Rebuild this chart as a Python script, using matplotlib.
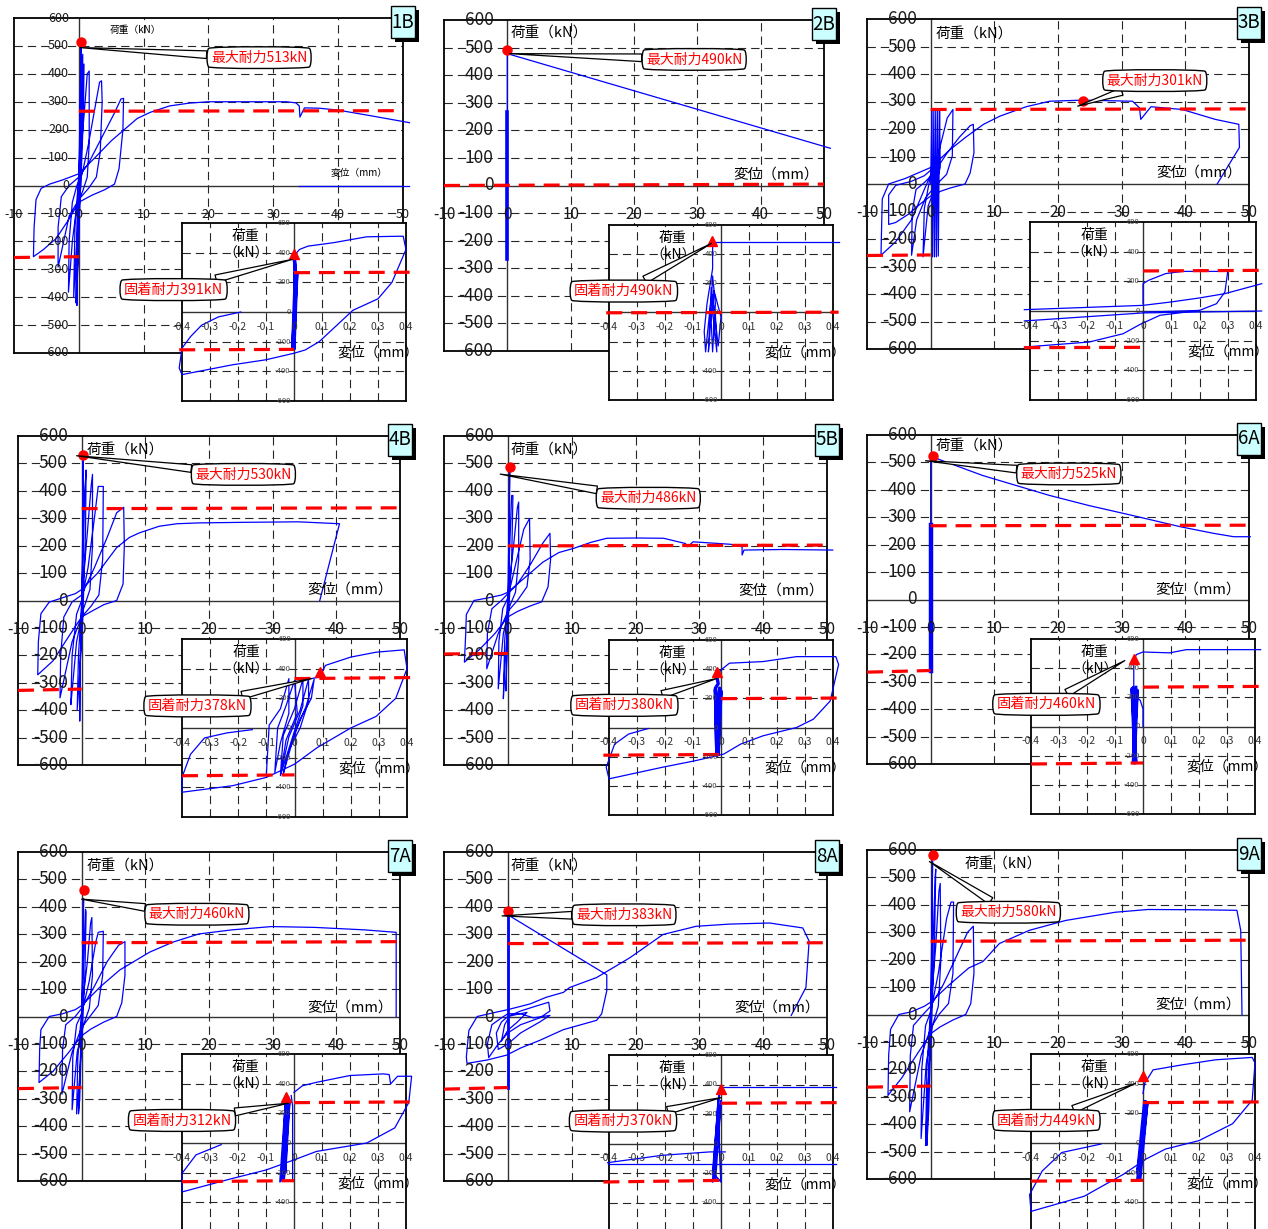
import matplotlib
matplotlib.use("Agg")
import matplotlib.pyplot as plt
from matplotlib.patches import Rectangle

plt.rcParams['font.family'] = ['Noto Sans CJK JP', 'DejaVu Sans']

W, H = 1268, 1229

# ---------------------------------------------------------------- specimens
specimens = ['1B', '2B', '3B', '4B', '5B', '6A', '7A', '8A', '9A']
max_load = [513, 490, 301, 530, 486, 525, 460, 383, 580]          # kN
max_disp = [0.35, 0.0, 23.9, 0.2, 0.4, 0.4, 0.4, 0.0, 0.4]         # mm
fix_load = [391, 490, None, 378, 380, 460, 312, 370, 449]          # kN
fix_disp = [0.0, -0.033, None, 0.09, -0.015, -0.033, -0.027, 0.0, 0.0]

main_ticks_y = list(range(-600, 700, 100))
main_ticks_x = [-10, 0, 10, 20, 30, 40, 50]
inset_ticks_y = [-600, -400, -200, 0, 200, 400, 600]
inset_ticks_x = [-0.4, -0.3, -0.2, -0.1, 0.0, 0.1, 0.2, 0.3, 0.4]

# ---------------------------------------------------------------- 1B
c1b_loops = [
    (0, 0), (0.2, 300), (0.35, 513), (0.3, 420), (0.1, 100), (-0.1, -200), (-0.3, -430), (-0.2, -300),
    (0.1, 0), (0.4, 300), (0.6, 470), (0.6, 300), (0.2, -50), (-0.2, -300), (-0.5, -420), (-0.3, -150),
    (0.2, 150), (0.5, 350), (0.8, 435), (0.7, 250), (0.3, 0), (-0.3, -200), (-0.8, -400), (-0.6, -150), (0, 40),
    (0.8, 250), (1.3, 400), (1.6, 410), (1.6, 150), (1.3, 30), (0.6, -20), (-0.3, -70), (-1.0, -200),
    (-1.6, -382), (-1.5, -200), (-1.0, -60), (-0.3, 0), (0.5, 40),
    (1.5, 150), (2.5, 280), (3.2, 370), (3.5, 375), (3.6, 300), (3.3, 120), (2.7, 30), (1.5, -10), (0, -50),
    (-1.5, -110), (-2.8, -250), (-3.2, -292), (-3.2, -150), (-2.7, -40), (-1.5, 0), (0, 30),
    (1.5, 80), (3.5, 170), (5.5, 260), (6.5, 310), (6.9, 312), (6.8, 200), (6.2, 60), (5.5, 5), (4, -15),
    (2, -35), (0, -60), (-1.5, -120), (-3.5, -190), (-5.5, -230), (-7.0, -255), (-6.9, -150), (-6.6, -50),
    (-5.8, -10), (-4.5, 5), (-2.5, 20), (0, 42),
    (2.5, 100), (5, 160), (7, 200), (9, 240), (11, 262), (14, 285), (17, 295), (20, 300), (27, 300),
    (32, 300), (33.5, 296), (34, 285), (34.1, 245), (34.8, 278), (37, 277), (40, 270), (45, 250), (51, 225),
]
c1b_tail = [(34, -2), (51, -2)]
f1b_loop = [
    (0.005, 390), (0.02, 422), (0.05, 444), (0.14, 467), (0.26, 507), (0.39, 511), (0.40, 422), (0.35, 200),
    (0.30, 89), (0.21, 11), (0.09, -200), (0.04, -256), (0.0, -278), (-0.10, -322), (-0.22, -356),
    (-0.40, -422), (-0.41, -378), (-0.40, -244), (-0.37, -167), (-0.33, -89), (-0.27, -33), (-0.19, 0),
]
f1b_core = [(0.0, -245), (0.005, 267), (0.0, -240), (0.01, 260), (-0.005, -250), (0.005, 265),
            (0.0, 390), (0.005, 267)]

# ---------------------------------------------------------------- 2B
c2b_core = [(0, -265), (0, 268)]
c2b_line = [(0, 268), (0, 478), (51, 135)]
f2b_top = [(-0.03, 485), (0.42, 485)]
f2b_core = [
    (-0.03, 485), (-0.03, 300), (-0.04, 180), (-0.05, 60), (-0.06, -130), (-0.055, -270), (-0.045, -80),
    (-0.035, 100), (-0.02, -10), (-0.015, -270), (-0.025, -100), (-0.035, 170), (-0.045, -270),
    (-0.04, -150), (-0.03, 250), (-0.02, 60), (-0.03, -270), (-0.035, -60), (-0.025, 150), (0.0, -30),
    (-0.01, -230), (-0.03, 120),
]

# ---------------------------------------------------------------- 3B
c3b_loops = [
    (0, 0), (0.2, 270), (0.3, -265), (0.5, 270), (0.6, -265), (0.8, 270), (0.9, -265), (1.1, 268),
    (1.2, -262), (1.4, 265), (1.5, 60), (0.6, -20), (-0.4, -80), (-1.2, -265), (-1.0, -90), (-0.2, 10),
    (1.2, 110), (2.6, 240), (3.5, 271), (3.4, 102), (2.5, 35), (1.0, 0), (-0.8, -50), (-2.2, -130),
    (-3.0, -259), (-2.9, -100), (-2.3, -20), (-1.0, 5), (0.5, 40),
    (2.5, 110), (4.5, 170), (6.2, 212), (6.7, 217), (6.8, 114), (6.2, 40), (5.4, 0), (3.0, -15),
    (0.5, -35), (-1.5, -70), (-3.5, -110), (-5.5, -140), (-6.6, -147), (-6.6, -40), (-5.5, -5), (-3, 10),
    (-1, 30), (0.5, 60), (-1, -20), (-3, -130), (-5.5, -210), (-7.8, -259), (-7.7, -150), (-7.6, -54),
    (-6.6, 0), (-4, 20), (-1.5, 45), (0, 60),
    (3.1, 126), (5.5, 170), (8.3, 217), (10.9, 247), (15, 281), (18.7, 301), (23.9, 305), (31.7, 301),
    (32.8, 277), (33, 235), (34.6, 281), (39.5, 271), (44.7, 235), (48.4, 217), (48.5, 133), (45, 0),
]
f3b_loop = [(0.0, 49), (0.0, 184), (0.02, 207), (0.08, 252), (0.14, 267), (0.30, 267), (0.29, 128),
            (0.26, 49), (0.2, 4), (0.1, -2), (0.0, -8)]
f3b_upper = [(-0.42, 9), (0.0, 38), (0.1, 61), (0.2, 88), (0.29, 117), (0.42, 184)]
f3b_middle = [(-0.42, -67), (-0.21, -40), (0.0, -13), (0.42, 0)]
f3b_lower = [(-0.42, -243), (-0.19, -209), (-0.07, -153), (-0.01, -90), (0.06, -29), (0.2, 4)]

# ---------------------------------------------------------------- 4B
c4b_loops = [
    (0, 0), (0.2, 300), (0.2, 528), (0.3, 400), (0.1, 50), (-0.3, -300), (-0.3, -440), (-0.2, -200),
    (0.2, 150), (0.5, 400), (0.7, 476), (0.6, 250), (0.2, -50), (-0.4, -300), (-0.7, -398), (-0.5, -200),
    (0.1, 30), (0.9, 250), (1.5, 420), (1.7, 460), (1.7, 200), (1.3, 40), (0.3, -30), (-0.8, -150),
    (-1.5, -330), (-1.7, -380), (-1.5, -200), (-0.8, -50), (0, 0),
    (1, 120), (2, 300), (2.6, 416), (3.4, 416), (3.3, 150), (2.7, 20), (1.5, -20), (0, -60), (-1.5, -150),
    (-3.4, -355), (-3.3, -200), (-2.8, -60), (-1.5, -5), (0, 20),
    (2, 120), (4, 230), (5.5, 320), (6.6, 340), (6.7, 200), (6.5, 60), (5.5, 0), (3.5, -15), (1.5, -40),
    (0, -60), (-2, -130), (-4.5, -220), (-6.9, -271), (-6.8, -150), (-6.4, -48), (-5.1, -6), (-3, 10),
    (-1, 25), (0, 40),
    (2.5, 100), (5.5, 193), (7.5, 230), (9.1, 247), (12.2, 271), (15, 280), (18.4, 283), (25, 285),
    (34, 287), (40.5, 280), (37.4, 0),
]
f4b_loop = [
    (0.06, 333), (0.09, 344), (0.11, 422), (0.2, 478), (0.29, 511), (0.39, 527), (0.40, 400), (0.36, 200),
    (0.29, 78), (0.2, 0), (0.08, -133), (0.0, -244), (-0.1, -333), (-0.22, -389), (-0.40, -433),
    (-0.40, -333), (-0.37, -178), (-0.32, -67), (-0.24, -33), (-0.15, -11),
]
f4b_steps = [
    (-0.10, -310), (-0.09, 20), (-0.05, 130), (-0.02, 333), (-0.02, 100), (-0.05, -100), (-0.07, -300),
    (-0.06, 0), (-0.03, 150), (0.0, 320), (0.01, 100), (-0.03, -80), (-0.05, -315), (-0.04, -50),
    (0.0, 130), (0.03, 330), (0.03, 150), (0.0, -20), (-0.03, -200), (-0.05, -320), (-0.02, -60),
    (0.02, 120), (0.05, 330), (0.05, 180), (0.02, 0), (-0.02, -150), (-0.04, -310), (0.0, -40),
    (0.04, 140), (0.07, 330), (0.06, 200), (0.02, 60), (-0.01, -100),
]

# ---------------------------------------------------------------- 5B
c5b_loops = [
    (0, 0), (0.2, 300), (0.3, 486), (0.25, 300), (0.1, 0), (-0.2, -250), (-0.3, -330), (-0.1, -100),
    (0.3, 200), (0.6, 383), (0.8, 383), (0.6, 150), (0.1, -50), (-0.5, -250), (-0.7, -358), (-0.5, -150),
    (0, 10), (0.9, 200), (1.5, 340), (1.7, 359), (1.7, 150), (1.2, 30), (0.3, -20), (-0.7, -120),
    (-1.5, -322), (-1.4, -150), (-0.8, -30), (0, 10),
    (1.2, 130), (2.5, 260), (3.4, 299), (3.5, 150), (3.0, 50), (1.5, 0), (0, -40), (-1.5, -120),
    (-3.3, -249), (-3.2, -120), (-2.5, -30), (-1, 0), (0, 25),
    (1.5, 60), (3.5, 130), (5.5, 210), (6.6, 245), (6.7, 150), (6.3, 50), (5.3, -5), (3.5, -20),
    (1.5, -40), (0, -60), (-2, -120), (-4.5, -180), (-6.8, -225), (-6.6, -120), (-6.5, -51), (-5.3, 0),
    (-3, 10), (-1, 20), (0, 30),
    (2.5, 80), (5.5, 140), (8, 175), (10.3, 190), (13, 212), (15.5, 227), (20, 228), (24.4, 227),
    (27.8, 208), (28.2, 196), (29, 214), (33, 208), (34.9, 205), (36.7, 196), (36.7, 166), (37, 184),
    (43, 186), (50.9, 184),
]
f5b_loop = [
    (-0.015, 352), (0.0, 395), (0.03, 441), (0.15, 452), (0.27, 486), (0.41, 486), (0.42, 432),
    (0.39, 182), (0.33, 57), (0.27, 0), (0.15, -57), (0.07, -114), (0.01, -182), (-0.09, -227),
    (-0.21, -273), (-0.40, -352), (-0.41, -273), (-0.38, -114), (-0.33, -45), (-0.26, -7),
]
f5b_core = [(-0.015, 352), (-0.01, 300), (-0.02, 270), (-0.015, -190), (-0.005, 270), (-0.01, -185),
            (-0.02, 260), (-0.015, -190), (0.0, 250), (-0.01, -180)]

# ---------------------------------------------------------------- 6A
c6a_core = [(0, -260), (0, 270)]
c6a_line = [(0, 270), (0, 505), (0.5, 518), (8.2, 452), (18.6, 380), (24.8, 343), (31.6, 307),
            (39.3, 265), (44.5, 241), (47.6, 229), (50.2, 229)]
f6a_top = [(-0.033, 270), (-0.033, 447), (-0.024, 493), (0.0, 511), (0.095, 505), (0.155, 527),
           (0.42, 527)]
f6a_core = [(-0.03, -250), (-0.035, 270), (-0.025, -245), (-0.04, 260), (-0.03, -250), (-0.02, 250),
            (-0.035, -240), (-0.025, 270)]
f6a_wiggle = [(-0.03, 210), (-0.01, 180), (0.0, 120), (0.0, 0)]

# ---------------------------------------------------------------- 7A
c7a_loops = [
    (0, 0), (0.2, 300), (0.3, 430), (0.25, 250), (0, -50), (-0.3, -300), (-0.5, -355), (-0.2, -150),
    (0.3, 200), (0.6, 391), (0.7, 380), (0.5, 150), (0.1, -50), (-0.4, -250), (-0.8, -355), (-0.6, -150),
    (0, 20), (0.9, 200), (1.4, 340), (1.6, 361), (1.7, 150), (1.2, 30), (0.3, -30), (-0.7, -130),
    (-1.5, -340), (-1.4, -150), (-0.8, -30), (0, 10),
    (1.2, 130), (2.2, 270), (2.6, 307), (3.4, 311), (3.3, 150), (2.6, 40), (1.3, 0), (0, -40),
    (-1.5, -130), (-3.1, -283), (-3.0, -120), (-2.5, -30), (-1, 0), (0, 30),
    (2, 110), (4, 200), (5.8, 260), (6.8, 273), (6.8, 150), (6.3, 50), (5.5, 0), (3.5, -20), (1.5, -45),
    (0, -70), (-2, -130), (-4.5, -200), (-6.7, -241), (-6.6, -120), (-6.4, -48), (-5.1, 0), (-3, 10),
    (-1, 25), (0, 40),
    (3, 110), (6, 170), (8.1, 199), (10.7, 235), (14.3, 271), (18.4, 301), (23.6, 316), (29.8, 328),
    (36.6, 325), (44.4, 316), (49.4, 307), (49.4, 0),
]
f7a_loop = [
    (0.0, 341), (0.03, 386), (0.08, 409), (0.2, 455), (0.32, 466), (0.34, 461), (0.345, 398), (0.37, 450),
    (0.42, 450), (0.41, 273), (0.36, 102), (0.26, 0), (0.08, -57), (0.0, -114), (-0.1, -182),
    (-0.22, -239), (-0.40, -330), (-0.40, -205), (-0.35, -80), (-0.29, -34), (-0.26, -11),
]
f7a_core = [(-0.05, -260), (-0.03, 300), (-0.045, -255), (-0.025, 310), (-0.04, -250), (-0.02, 300),
            (-0.035, -240), (-0.015, 290), (-0.03, -200), (-0.02, 310)]
f7a_side = [(-0.01, 320), (-0.005, 250), (-0.005, -255)]

# ---------------------------------------------------------------- 8A
c8a_core = [(0, -260), (0, 375)]
c8a_line = [
    (0, 371), (15.5, 152), (15.5, 94), (14.7, 10), (13.9, -14), (8.7, -48), (5.0, -87), (2, -115),
    (-0.2, -141), (-3.3, -159), (-6.4, -171), (-6.5, -147), (-6.1, -51), (-4.8, 0), (-2, 15), (0, 25),
    (3.5, 46), (6, 70), (8.7, 88), (9.7, 106), (13.9, 142), (19.1, 214), (24.3, 299), (29.5, 329),
    (34.7, 337), (41, 341), (46.2, 323), (47.2, 275), (46.7, 106), (44.4, 4),
]
c8a_small = [
    (0, 0), (2, 20), (4, 35), (6.4, 52), (6.6, 20), (5, -5), (2, -30), (0, -60), (-1.5, -100), (-3, -150),
    (-3.2, -100), (-2.5, -30), (-1, -5), (0, 10), (2, 10), (4, -5), (6.6, 4), (5, -20), (2, -60),
    (0, -100), (-1.5, -120), (-1.8, -60), (-1, -20), (0, 0), (1.5, 8), (3, 15), (1.5, -20), (0, -50),
    (-1, -90), (-0.5, -30), (0, -10),
]
f8a_top = [(0.0, 380), (0.41, 380)]
f8a_low = [(-0.405, -136), (0.0, -136), (0.41, -136)]
f8a_mid = [(-0.405, -130), (-0.21, -80), (-0.04, -57), (0.015, -57)]
f8a_core = [(-0.03, -260), (-0.01, 300), (-0.025, -255), (0.0, 290), (-0.02, -250), (-0.005, 380),
            (-0.03, -200), (0.0, -260), (-0.01, 150), (-0.025, -240)]

# ---------------------------------------------------------------- 9A
c9a_loops = [
    (0, 0), (0.2, 350), (0.3, 560), (0.2, 300), (0, -100), (-0.3, -350), (-0.6, -478), (-0.3, -200),
    (0.3, 200), (0.7, 500), (0.8, 530), (0.6, 250), (0.1, -50), (-0.5, -300), (-0.8, -478), (-0.6, -200),
    (0, 20), (0.8, 250), (1.3, 450), (1.5, 478), (1.6, 200), (1.2, 30), (0.3, -40), (-0.7, -180),
    (-1.5, -452), (-1.4, -200), (-0.8, -40), (0, 10),
    (1.2, 150), (2.5, 350), (3.2, 410), (3.6, 410), (3.5, 150), (2.8, 40), (1.3, 0), (0, -50),
    (-1.5, -150), (-3.3, -355), (-3.2, -150), (-2.7, -40), (-1.2, 0), (0, 30),
    (2, 110), (4, 210), (5.8, 300), (6.7, 322), (6.8, 150), (6.3, 40), (5.5, 0), (3.5, -20), (1.5, -45),
    (0, -70), (-2, -140), (-4.5, -230), (-6.7, -295), (-6.6, -150), (-6.3, -54), (-5, 0), (-3, 10),
    (-1, 30), (0, 45),
    (3, 110), (6, 170), (8.2, 193), (10.8, 259), (15.5, 307), (21.2, 343), (29, 373), (34.1, 383),
    (42, 382), (48.1, 380), (48.7, 307), (48.9, 0),
]
f9a_loop = [
    (0.0, 334), (0.006, 402), (0.036, 493), (0.14, 527), (0.26, 561), (0.39, 577), (0.40, 539),
    (0.39, 289), (0.32, 130), (0.2, 16), (0.08, -41), (0.01, -109), (-0.07, -211), (-0.21, -359),
    (-0.40, -461), (-0.405, -348), (-0.36, -189), (-0.29, -64), (-0.15, -7),
]
f9a_core = [(-0.02, -250), (0.01, 280), (-0.015, -245), (0.015, 270), (-0.01, -240), (0.005, 280),
            (-0.02, -200), (0.01, 200)]

# ---------------------------------------------------------------- design lines (red dashed)
main_limits = {
    '1B': [[(0, 266), (50, 268)], [(-10, -258), (0, -255)]],
    '2B': [[(-10, 0), (50, 5)]],
    '3B': [[(0, 271), (50, 273)], [(-10, -260), (0, -258)]],
    '4B': [[(0, 335), (50, 338)], [(-10, -328), (0, -323)]],
    '5B': [[(0, 199), (50, 202)], [(-10, -195), (0, -193)]],
    '6A': [[(0, 269), (50, 271)], [(-10, -265), (0, -259)]],
    '7A': [[(0, 269), (50, 273)], [(-10, -263), (0, -259)]],
    '8A': [[(0, 266), (50, 269)], [(-10, -265), (0, -259)]],
    '9A': [[(0, 267), (50, 271)], [(-10, -265), (0, -261)]],
}
inset_limits = {
    '1B': [[(0, 265), (0.42, 268)], [(-0.41, -255), (0, -252)]],
    '2B': [[(-0.41, -2), (0.42, 2)]],
    '3B': [[(0, 270), (0.42, 274)], [(-0.42, -247), (0, -245)]],
    '4B': [[(0, 333), (0.42, 340)], [(-0.40, -322), (0, -316)]],
    '5B': [[(0, 198), (0.42, 202)], [(-0.42, -190), (0, -185)]],
    '6A': [[(0, 270), (0.42, 275)], [(-0.40, -257), (0, -250)]],
    '7A': [[(0, 272), (0.42, 277)], [(-0.40, -261), (0, -254)]],
    '8A': [[(0, 273), (0.42, 277)], [(-0.42, -261), (0, -250)]],
    '9A': [[(0, 272), (0.42, 277)], [(-0.40, -257), (0, -252)]],
}

# curves per specimen: (points, line width)
main_curves = {
    '1B': [(c1b_loops, 0.9), (c1b_tail, 0.9)],
    '2B': [(c2b_core, 2.6), (c2b_line, 0.9)],
    '3B': [(c3b_loops, 0.9)],
    '4B': [(c4b_loops, 0.9)],
    '5B': [(c5b_loops, 0.9)],
    '6A': [(c6a_core, 3.2), (c6a_line, 0.9)],
    '7A': [(c7a_loops, 0.9)],
    '8A': [(c8a_core, 2.0), (c8a_line, 0.9), (c8a_small, 0.9)],
    '9A': [(c9a_loops, 0.9)],
}
inset_curves = {
    '1B': [(f1b_loop, 0.9), (f1b_core, 2.4)],
    '2B': [(f2b_top, 0.9), (f2b_core, 0.9)],
    '3B': [(f3b_loop, 0.9), (f3b_upper, 0.9), (f3b_middle, 0.9), (f3b_lower, 0.9)],
    '4B': [(f4b_loop, 0.9), (f4b_steps, 0.9)],
    '5B': [(f5b_loop, 0.9), (f5b_core, 2.4)],
    '6A': [(f6a_top, 0.9), (f6a_core, 2.0), (f6a_wiggle, 0.9)],
    '7A': [(f7a_loop, 0.9), (f7a_core, 1.2), (f7a_side, 0.9)],
    '8A': [(f8a_top, 0.9), (f8a_low, 0.9), (f8a_mid, 0.9), (f8a_core, 1.2)],
    '9A': [(f9a_loop, 0.9), (f9a_core, 2.0)],
}

# ---------------------------------------------------------------- layout (pixels: left, top, right, bottom)
main_rects = [
    (14, 18, 403, 353), (444, 20, 824, 351), (867, 19, 1249, 349),
    (18, 436, 400, 765), (444, 436, 827, 765), (867, 435, 1249, 764),
    (18, 852, 400, 1181), (444, 852, 827, 1181), (867, 850, 1249, 1179),
]
inset_rects = [
    (182, 223, 406, 401), (609, 225, 833, 400), (1030, 222, 1256, 400),
    (182, 639, 407, 817), (609, 640, 833, 815), (1031, 639, 1255, 814),
    (182, 1054, 406, 1232), (609, 1055, 833, 1232), (1031, 1054, 1255, 1232),
]
# callout text centre / pointer tip, main axes
max_note = [
    ((27.8, 458), (0.2, 494)), ((29.5, 457), (0.4, 478)), ((35.2, 376), (23.1, 283)),
    ((25.4, 460), (-0.8, 528)), ((22.0, 373), (-1.2, 461)), ((21.7, 458), (-0.8, 506)),
    ((18.1, 373), (0.0, 428)), ((18.2, 371), (-0.9, 367)), ((12.2, 373), (-0.2, 558)),
]
fix_note = [
    ((-0.43, 151), (-0.006, 355)), ((-0.347, 147), (-0.034, 474)), None,
    ((-0.345, 149), (0.06, 333)), ((-0.345, 152), (-0.015, 336)), ((-0.345, 152), (-0.065, 452)),
    ((-0.40, 152), (-0.02, 268)), ((-0.35, 152), (0.0, 311)), ((-0.345, 152), (-0.027, 402)),
]
load_label_pos = [(4.7, 558), (0.5, 550), (0.7, 545), (0.7, 548), (0.5, 548),
                  (0.7, 557), (0.7, 548), (0.5, 548), (5.4, 548)]
disp_label_pos = [(47.6, 45), (49.1, 39), (48.9, 40), (48.8, 40), (49.5, 37),
                  (48.7, 36), (48.9, 34), (48.9, 34), (48.7, 36)]

BLUE = '#0000ff'
RED = '#ff0000'
GRID = dict(color='#262626', lw=0.8, dashes=(7.5, 4.5))
AXIS0 = dict(color='#333333', lw=1.0)
REDDASH = dict(color=RED, lw=2.3, dashes=(5, 2.8), solid_capstyle='butt', dash_capstyle='butt')


def rect(l, t, r, b):
    return [l / W, 1 - b / H, (r - l) / W, (b - t) / H]


def frame(ax):
    ax.set_xticks([])
    ax.set_yticks([])
    for s in ax.spines.values():
        s.set_linewidth(1.3)
        s.set_color('black')


def draw_curves(ax, curves, zorder):
    for pts, lw in curves:
        xs = [p[0] for p in pts]
        ys = [p[1] for p in pts]
        ax.plot(xs, ys, color=BLUE, lw=lw, clip_on=False, zorder=zorder,
                solid_joinstyle='round')


def draw_limits(ax, segs):
    for (a, b) in segs:
        ax.plot([a[0], b[0]], [a[1], b[1]], clip_on=False, zorder=4, **REDDASH)


callout_box = dict(boxstyle='round4,pad=0.32', fc='white', ec='black', lw=1.0)
callout_arrow = dict(arrowstyle='wedge,tail_width=0.55,shrink_factor=0.5', fc='white', ec='black',
                     lw=0.9, shrinkA=0, shrinkB=0)

fig = plt.figure(figsize=(W / 100, H / 100), dpi=100)
fig.patch.set_facecolor('white')

for i, sid in enumerate(specimens):
    small = (sid == '1B')

    # ---------- main hysteresis plot
    ax = fig.add_axes(rect(*main_rects[i]), zorder=1)
    ax.set_xlim(-10, 50)
    ax.set_ylim(-600, 600)
    frame(ax)
    for gx in (10, 20, 30, 40):
        ax.axvline(gx, zorder=1, **GRID)
    for gy in main_ticks_y:
        if gy not in (0, 600, -600):
            ax.axhline(gy, zorder=1, **GRID)
    ax.axvline(0, zorder=2, **AXIS0)
    ax.axhline(0, zorder=2, **AXIS0)

    fy = 9 if small else 12.5
    fx = 9 if small else 11
    for v in main_ticks_y:
        ax.text(-1.5 if small else -2.2, v, str(v), ha='right', va='center', fontsize=fy,
                color='#1a1a1a', clip_on=False, zorder=5)
    for v in main_ticks_x:
        ax.text(v, -104, str(v), ha='center', va='center', fontsize=fx, color='#1a1a1a',
                clip_on=False, zorder=5)

    lx, ly = load_label_pos[i]
    ax.text(lx, ly, '荷重（kN）', ha='left', va='center', fontsize=7 if small else 10.5, zorder=5)
    dx, dy = disp_label_pos[i]
    ax.text(dx, dy, '変位（mm）', ha='right', va='center', fontsize=7 if small else 10.5, zorder=5)

    draw_curves(ax, main_curves[sid], 3)
    draw_limits(ax, main_limits[sid])
    ax.plot([max_disp[i]], [max_load[i]], 'o', color=RED, ms=6.5, zorder=6, clip_on=False)
    (tx, ty), tip = max_note[i]
    ax.annotate(f'最大耐力{max_load[i]}kN', xy=tip, xytext=(tx, ty), ha='center', va='center',
                color=RED, fontsize=10, bbox=callout_box, arrowprops=callout_arrow,
                annotation_clip=False, zorder=7)

    # ---------- enlarged view near the origin
    ins = fig.add_axes(rect(*inset_rects[i]), zorder=2)
    ins.set_facecolor('white')
    ins.set_xlim(-0.4, 0.4)
    ins.set_ylim(-600, 600)
    frame(ins)
    for gx in (-0.3, -0.2, -0.1, 0.1, 0.2, 0.3):
        ins.axvline(gx, zorder=1, **GRID)
    for gy in (-400, -200, 200, 400):
        ins.axhline(gy, zorder=1, **GRID)
    ins.axvline(0, zorder=2, **AXIS0)
    ins.axhline(0, zorder=2, **AXIS0)
    for v in inset_ticks_y:
        ins.text(-0.012, v, str(v), ha='right', va='center', fontsize=5.5, color='#444444',
                 clip_on=False, zorder=5)
    for v in inset_ticks_x:
        lab = '0' if v == 0 else f'{v:.1f}'
        ins.text(v, -100, lab, ha='center', va='center', fontsize=7.5, color='#333333',
                 clip_on=False, zorder=5)
    ins.text(-0.172, 510, '荷重', ha='center', va='center', fontsize=10, zorder=5)
    ins.text(-0.172, 390, '（kN）', ha='center', va='center', fontsize=10, zorder=5)
    ins.text(0.30, -275, '変位（mm）', ha='center', va='center', fontsize=10, zorder=5)

    draw_curves(ins, inset_curves[sid], 3)
    draw_limits(ins, inset_limits[sid])
    if fix_load[i] is not None:
        ins.plot([fix_disp[i]], [fix_load[i]], '^', color=RED, ms=7, zorder=6, clip_on=False)
        (tx, ty), tip = fix_note[i]
        ins.annotate(f'固着耐力{fix_load[i]}kN', xy=tip, xytext=(tx, ty), ha='center', va='center',
                     color=RED, fontsize=10.3, bbox=callout_box, arrowprops=callout_arrow,
                     annotation_clip=False, zorder=7)

    # ---------- specimen tag with drop shadow
    l, t, r, b = main_rects[i]
    bl, bt, bw, bh = r - 12, t - 12, 24, 32
    fig.add_artist(Rectangle(((bl + 4) / W, 1 - (bt + bh + 4) / H), bw / W, bh / H,
                             transform=fig.transFigure, fc='black', ec='none', zorder=10))
    fig.add_artist(Rectangle((bl / W, 1 - (bt + bh) / H), bw / W, bh / H,
                             transform=fig.transFigure, fc='#ccffff', ec='black', lw=1.0, zorder=11))
    fig.text((bl + bw / 2) / W, 1 - (bt + bh / 2) / H, sid, ha='center', va='center',
             fontsize=13.5, zorder=12)

fig.savefig('out.png', dpi=100)
